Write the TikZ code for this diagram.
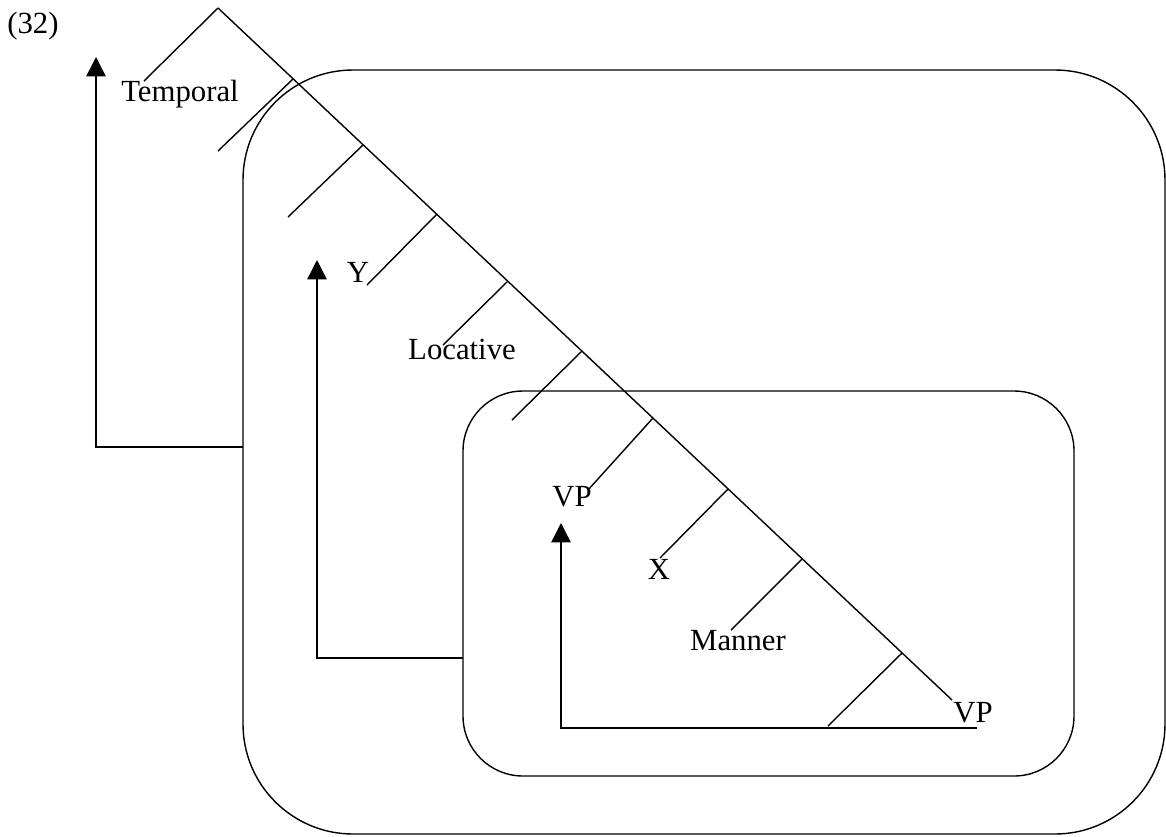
\documentclass[tikz,border=0pt]{standalone}
\usepackage{fontspec}
\setmainfont{Liberation Serif}
\usetikzlibrary{arrows.meta}

\begin{document}
\begin{tikzpicture}[x=0.02cm, y=-0.02cm, line width=0.8pt,
  >={Triangle[length=11pt, width=11pt]},
  lbl/.style={inner sep=0pt, font=\fontsize{17.5}{21}\selectfont},
  bigbox/.style={draw, rounded corners=2.2cm},
  smallbox/.style={draw, rounded corners=1.2cm}]
  \useasboundingbox (0,0) rectangle (1166,836);

  \node[lbl] (num) at (33,26) {(32)};

  \draw[bigbox] (243,70) rectangle (1165,834);
  \draw[smallbox] (463,391) rectangle (1074,776);

  \coordinate (apex) at (218,8);
  \coordinate (spineEnd) at (952,700);
  \coordinate (j1) at (293,79);
  \coordinate (j2) at (363,145);
  \coordinate (j3) at (437,214);
  \coordinate (j4) at (508,281);
  \coordinate (j5) at (582,351);
  \coordinate (j6) at (653,418);
  \coordinate (j7) at (728,489);
  \coordinate (j8) at (802,559);
  \coordinate (j9) at (902,653);

  \coordinate (e0) at (144,81);
  \coordinate (e1) at (218,151);
  \coordinate (e2) at (288,217);
  \coordinate (e3) at (367,285);
  \coordinate (e4) at (443,345);
  \coordinate (e5) at (512,420);
  \coordinate (e6) at (588,490);
  \coordinate (e7) at (660,558);
  \coordinate (e8) at (731,630);
  \coordinate (e9) at (828,726);

  \node[lbl] (temporal) at (180,94) {Temporal};
  \node[lbl] (y) at (358,272) {Y};
  \node[lbl] (locative) at (462,349) {Locative};
  \node[lbl] (vpUp) at (572,497) {VP};
  \node[lbl] (x) at (659,569) {X};
  \node[lbl] (manner) at (738,641) {Manner};
  \node[lbl] (vpLow) at (973,713) {VP};

  \draw (apex) -- (spineEnd);
  \draw (apex) -- (e0);
  \draw (j1) -- (e1);
  \draw (j2) -- (e2);
  \draw (j3) -- (e3);
  \draw (j4) -- (e4);
  \draw (j5) -- (e5);
  \draw (j6) -- (e6);
  \draw (j7) -- (e7);
  \draw (j8) -- (e8);
  \draw (j9) -- (e9);

  \coordinate (tStart) at (243,447);
  \coordinate (tTip) at (96,57);
  \coordinate (yStart) at (463,658);
  \coordinate (yTip) at (317,260);
  \coordinate (vStart) at (977,728);
  \coordinate (vTip) at (561,523);

  \draw[->] (tStart) -| (tTip);
  \draw[->] (yStart) -| (yTip);
  \draw[->] (vStart) -| (vTip);
\end{tikzpicture}
\end{document}
